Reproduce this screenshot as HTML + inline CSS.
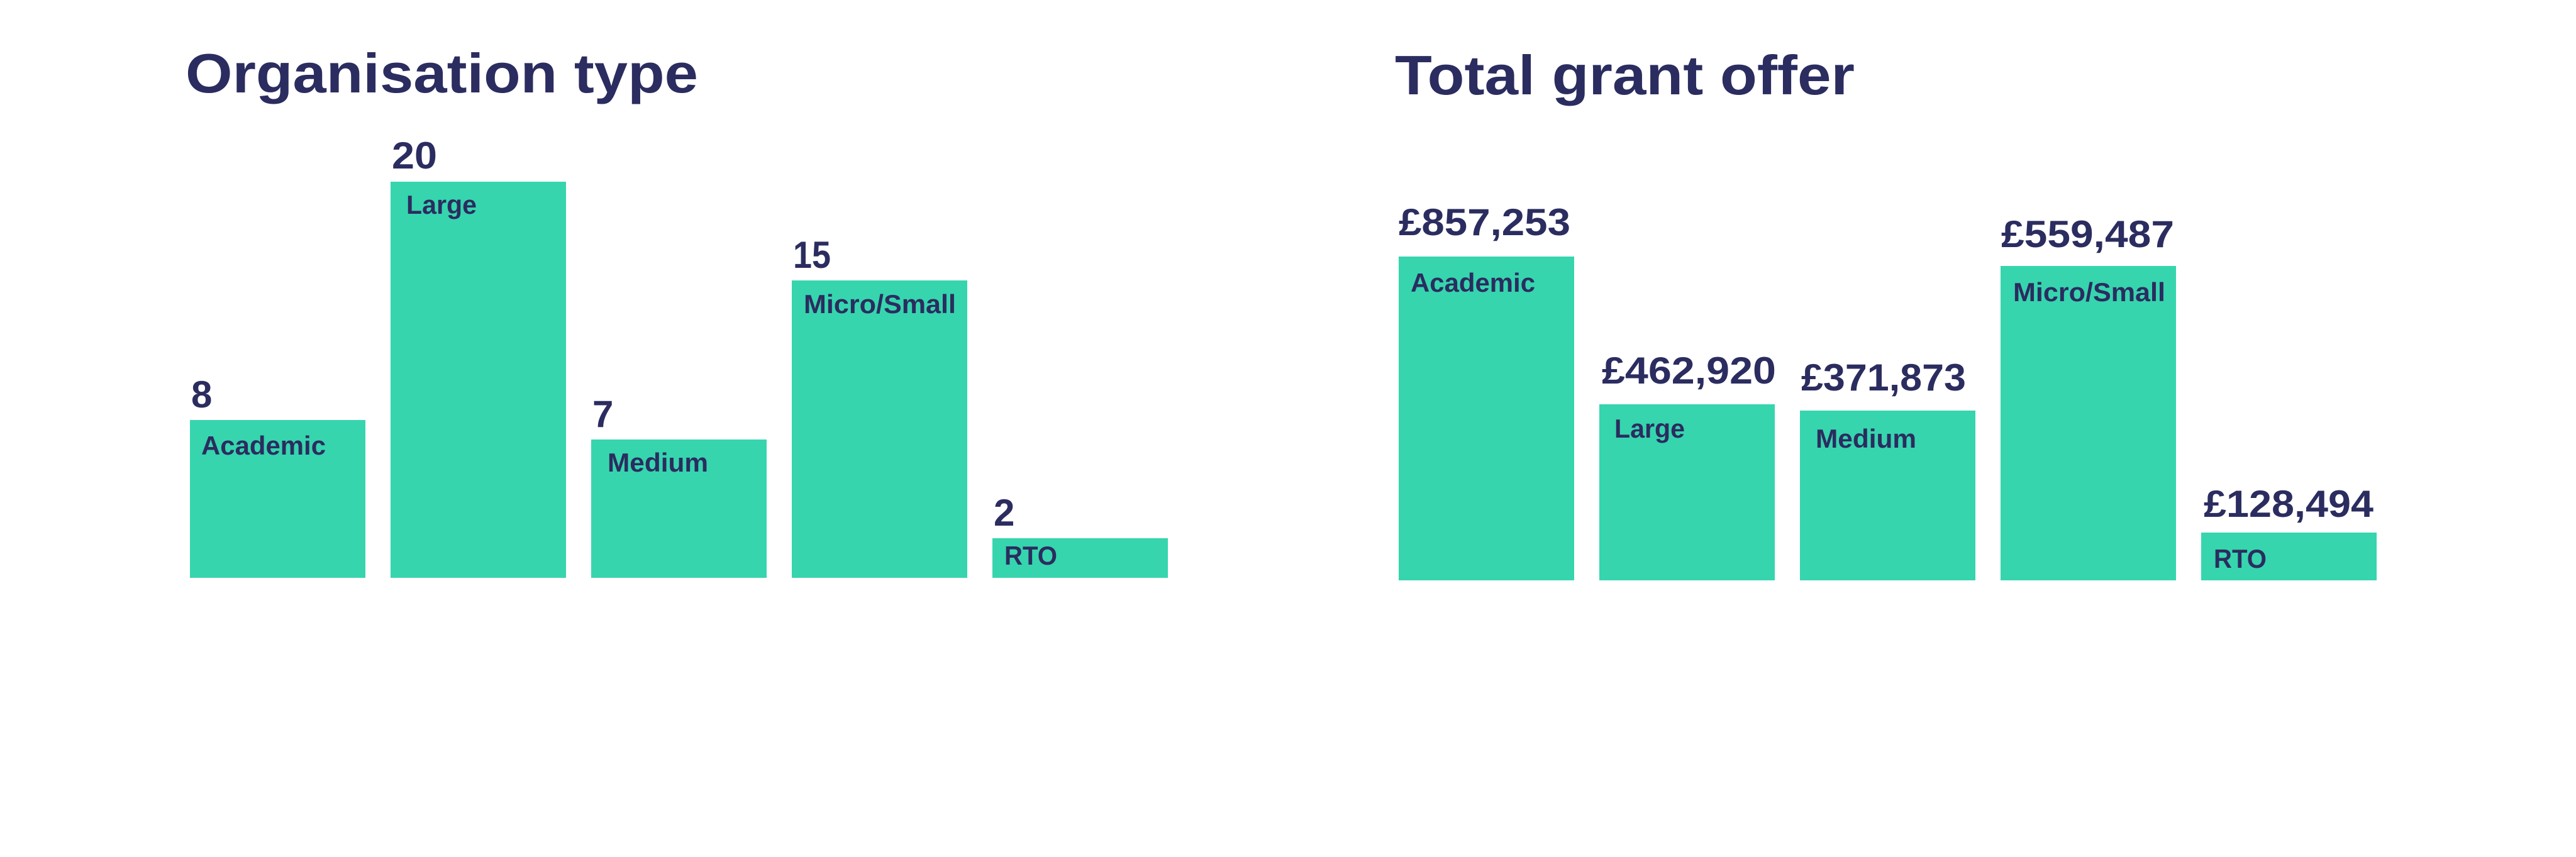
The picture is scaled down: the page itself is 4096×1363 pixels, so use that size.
<!DOCTYPE html>
<html><head><meta charset="utf-8"><style>
html,body{margin:0;padding:0;background:#fff;}
svg{display:block;}
text{font-family:"Liberation Sans",sans-serif;font-weight:bold;fill:#2b2c5f;}
</style></head><body>
<svg width="4096" height="1363" viewBox="0 0 4096 1363" xmlns="http://www.w3.org/2000/svg">
<rect width="4096" height="1363" fill="#fff"/>
<text x="295" y="147" font-size="88" textLength="815" lengthAdjust="spacingAndGlyphs">Organisation type</text>
<g fill="#36d5ae">
<rect x="302" y="668" width="279" height="251"/>
<rect x="621" y="289" width="279" height="630"/>
<rect x="940" y="699" width="279" height="220"/>
<rect x="1259" y="446" width="279" height="473"/>
<rect x="1578" y="856" width="279" height="63"/>
</g>
<g font-size="60">
<text x="304" y="648">8</text>
<text x="623" y="268" textLength="72" lengthAdjust="spacingAndGlyphs">20</text>
<text x="942" y="679">7</text>
<text x="1261" y="426" textLength="60" lengthAdjust="spacingAndGlyphs">15</text>
<text x="1580" y="836">2</text>
</g>
<g font-size="42">
<text x="320" y="723" textLength="198" lengthAdjust="spacingAndGlyphs">Academic</text>
<text x="646" y="340" textLength="112" lengthAdjust="spacingAndGlyphs">Large</text>
<text x="966" y="750" textLength="160" lengthAdjust="spacingAndGlyphs">Medium</text>
<text x="1278" y="498" textLength="242" lengthAdjust="spacingAndGlyphs">Micro/Small</text>
<text x="1597" y="898" textLength="84" lengthAdjust="spacingAndGlyphs">RTO</text>
</g>

<text x="2218" y="150" font-size="88" textLength="731" lengthAdjust="spacingAndGlyphs">Total grant offer</text>
<g fill="#36d5ae">
<rect x="2224" y="408" width="279" height="515"/>
<rect x="2543" y="643" width="279" height="280"/>
<rect x="2862" y="653" width="279" height="270"/>
<rect x="3181" y="423" width="279" height="500"/>
<rect x="3500" y="847" width="279" height="76"/>
</g>
<g font-size="60">
<text x="2224" y="374" textLength="273" lengthAdjust="spacingAndGlyphs">£857,253</text>
<text x="2547" y="610" textLength="277" lengthAdjust="spacingAndGlyphs">£462,920</text>
<text x="2864" y="621" textLength="262" lengthAdjust="spacingAndGlyphs">£371,873</text>
<text x="3182" y="393" textLength="275" lengthAdjust="spacingAndGlyphs">£559,487</text>
<text x="3504" y="822" textLength="270" lengthAdjust="spacingAndGlyphs">£128,494</text>
</g>
<g font-size="42">
<text x="2243" y="464" textLength="198" lengthAdjust="spacingAndGlyphs">Academic</text>
<text x="2567" y="696" textLength="112" lengthAdjust="spacingAndGlyphs">Large</text>
<text x="2887" y="712" textLength="160" lengthAdjust="spacingAndGlyphs">Medium</text>
<text x="3201" y="479" textLength="242" lengthAdjust="spacingAndGlyphs">Micro/Small</text>
<text x="3520" y="903" textLength="84" lengthAdjust="spacingAndGlyphs">RTO</text>
</g>
</svg>
</body></html>
